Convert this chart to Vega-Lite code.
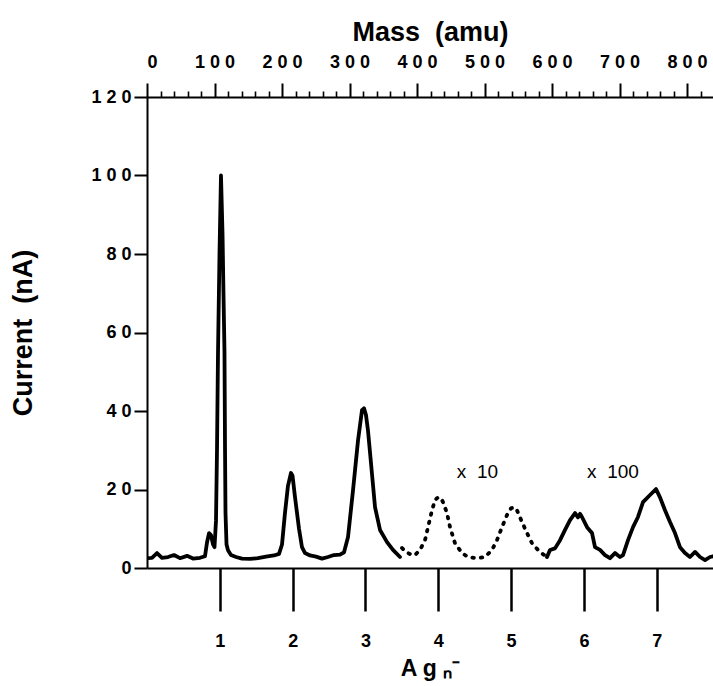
{
  "$schema": "https://vega.github.io/schema/vega-lite/v6.json",
  "width": 566,
  "height": 471,
  "autosize": "none",
  "padding": {"left": 147, "top": 97, "right": 0, "bottom": 118},
  "background": "white",
  "config": {
    "view": {"stroke": null},
    "font": "Liberation Sans",
    "axis": {"domainColor": "black", "tickColor": "black", "labelColor": "black", "titleColor": "black", "grid": false, "labelFont": "Liberation Sans", "titleFont": "Liberation Sans"}
  },
  "datasets": {
    "trace": [
      {"seg": "a", "mass": 0, "nA": 2.5},
      {"seg": "a", "mass": 7.4, "nA": 2.6},
      {"seg": "a", "mass": 14.8, "nA": 3.8},
      {"seg": "a", "mass": 22.2, "nA": 2.6},
      {"seg": "a", "mass": 31.1, "nA": 2.8},
      {"seg": "a", "mass": 40.0, "nA": 3.3},
      {"seg": "a", "mass": 48.9, "nA": 2.5},
      {"seg": "a", "mass": 59.3, "nA": 3.1},
      {"seg": "a", "mass": 68.1, "nA": 2.4},
      {"seg": "a", "mass": 78.5, "nA": 2.6},
      {"seg": "a", "mass": 85.9, "nA": 3.0},
      {"seg": "a", "mass": 88.9, "nA": 6.5},
      {"seg": "a", "mass": 91.9, "nA": 8.9},
      {"seg": "a", "mass": 94.8, "nA": 8.4},
      {"seg": "a", "mass": 97.8, "nA": 6.0},
      {"seg": "a", "mass": 100.0, "nA": 5.3},
      {"seg": "a", "mass": 102.2, "nA": 12},
      {"seg": "a", "mass": 103.7, "nA": 30},
      {"seg": "a", "mass": 105.2, "nA": 55},
      {"seg": "a", "mass": 107.4, "nA": 80},
      {"seg": "a", "mass": 109.6, "nA": 100},
      {"seg": "a", "mass": 111.9, "nA": 85},
      {"seg": "a", "mass": 113.3, "nA": 70},
      {"seg": "a", "mass": 114.8, "nA": 55},
      {"seg": "a", "mass": 115.6, "nA": 30},
      {"seg": "a", "mass": 116.3, "nA": 14},
      {"seg": "a", "mass": 117.8, "nA": 6},
      {"seg": "a", "mass": 120.0, "nA": 4.5},
      {"seg": "a", "mass": 124.4, "nA": 3.3},
      {"seg": "a", "mass": 131.9, "nA": 2.8},
      {"seg": "a", "mass": 140.7, "nA": 2.4},
      {"seg": "a", "mass": 152.6, "nA": 2.3},
      {"seg": "a", "mass": 164.4, "nA": 2.5},
      {"seg": "a", "mass": 176.3, "nA": 2.9},
      {"seg": "a", "mass": 188.1, "nA": 3.2},
      {"seg": "a", "mass": 195.6, "nA": 3.6},
      {"seg": "a", "mass": 200.0, "nA": 6},
      {"seg": "a", "mass": 204.4, "nA": 14},
      {"seg": "a", "mass": 208.9, "nA": 21},
      {"seg": "a", "mass": 213.3, "nA": 24.2},
      {"seg": "a", "mass": 215.6, "nA": 23.5},
      {"seg": "a", "mass": 219.3, "nA": 18},
      {"seg": "a", "mass": 225.2, "nA": 10},
      {"seg": "a", "mass": 229.6, "nA": 5.3},
      {"seg": "a", "mass": 234.1, "nA": 3.8},
      {"seg": "a", "mass": 241.5, "nA": 3.2},
      {"seg": "a", "mass": 250.4, "nA": 2.9},
      {"seg": "a", "mass": 259.3, "nA": 2.4},
      {"seg": "a", "mass": 268.1, "nA": 2.8},
      {"seg": "a", "mass": 277.0, "nA": 3.3},
      {"seg": "a", "mass": 285.9, "nA": 3.4},
      {"seg": "a", "mass": 291.9, "nA": 4.0},
      {"seg": "a", "mass": 297.8, "nA": 7.9},
      {"seg": "a", "mass": 305.2, "nA": 19.8},
      {"seg": "a", "mass": 312.6, "nA": 32.5},
      {"seg": "a", "mass": 318.5, "nA": 40.2},
      {"seg": "a", "mass": 321.5, "nA": 40.7},
      {"seg": "a", "mass": 324.4, "nA": 39},
      {"seg": "a", "mass": 327.4, "nA": 35},
      {"seg": "a", "mass": 333.3, "nA": 24},
      {"seg": "a", "mass": 337.8, "nA": 15.5},
      {"seg": "a", "mass": 345.2, "nA": 9.7},
      {"seg": "a", "mass": 355.6, "nA": 6.6},
      {"seg": "a", "mass": 364.4, "nA": 4.6},
      {"seg": "a", "mass": 374.8, "nA": 2.8},
      {"seg": "dotted", "mass": 377.8, "nA": 5.1},
      {"seg": "dotted", "mass": 382.2, "nA": 4.3},
      {"seg": "dotted", "mass": 386.7, "nA": 3.8},
      {"seg": "dotted", "mass": 392.6, "nA": 3.3},
      {"seg": "dotted", "mass": 397.0, "nA": 3.3},
      {"seg": "dotted", "mass": 404.4, "nA": 4.6},
      {"seg": "dotted", "mass": 411.9, "nA": 7.1},
      {"seg": "dotted", "mass": 416.3, "nA": 10.4},
      {"seg": "dotted", "mass": 422.2, "nA": 14.7},
      {"seg": "dotted", "mass": 426.7, "nA": 17.3},
      {"seg": "dotted", "mass": 431.1, "nA": 18.0},
      {"seg": "dotted", "mass": 435.6, "nA": 17.8},
      {"seg": "dotted", "mass": 438.5, "nA": 16.8},
      {"seg": "dotted", "mass": 444.4, "nA": 14.0},
      {"seg": "dotted", "mass": 448.9, "nA": 10.4},
      {"seg": "dotted", "mass": 456.3, "nA": 6.3},
      {"seg": "dotted", "mass": 466.7, "nA": 3.8},
      {"seg": "dotted", "mass": 475.6, "nA": 2.8},
      {"seg": "dotted", "mass": 488.9, "nA": 2.5},
      {"seg": "dotted", "mass": 500.7, "nA": 2.8},
      {"seg": "dotted", "mass": 511.1, "nA": 4.6},
      {"seg": "dotted", "mass": 518.5, "nA": 7.1},
      {"seg": "dotted", "mass": 525.9, "nA": 10.4},
      {"seg": "dotted", "mass": 533.3, "nA": 13.5},
      {"seg": "dotted", "mass": 539.3, "nA": 15.2},
      {"seg": "dotted", "mass": 543.7, "nA": 15.5},
      {"seg": "dotted", "mass": 548.1, "nA": 14.7},
      {"seg": "dotted", "mass": 555.6, "nA": 11.7},
      {"seg": "dotted", "mass": 563.0, "nA": 8.9},
      {"seg": "dotted", "mass": 570.4, "nA": 6.3},
      {"seg": "dotted", "mass": 579.3, "nA": 4.6},
      {"seg": "dotted", "mass": 586.7, "nA": 3.5},
      {"seg": "dotted", "mass": 592.6, "nA": 2.9},
      {"seg": "c", "mass": 592.6, "nA": 2.8},
      {"seg": "c", "mass": 597.0, "nA": 4.6},
      {"seg": "c", "mass": 604.4, "nA": 5.0},
      {"seg": "c", "mass": 611.9, "nA": 7.1},
      {"seg": "c", "mass": 619.3, "nA": 9.7},
      {"seg": "c", "mass": 626.7, "nA": 12.2},
      {"seg": "c", "mass": 634.1, "nA": 14.0},
      {"seg": "c", "mass": 638.5, "nA": 12.9},
      {"seg": "c", "mass": 641.5, "nA": 13.8},
      {"seg": "c", "mass": 644.4, "nA": 13.0},
      {"seg": "c", "mass": 651.9, "nA": 10.4},
      {"seg": "c", "mass": 656.3, "nA": 9.5},
      {"seg": "c", "mass": 659.3, "nA": 8.9},
      {"seg": "c", "mass": 663.7, "nA": 5.3},
      {"seg": "c", "mass": 671.1, "nA": 4.6},
      {"seg": "c", "mass": 678.5, "nA": 3.3},
      {"seg": "c", "mass": 685.9, "nA": 2.5},
      {"seg": "c", "mass": 693.3, "nA": 3.8},
      {"seg": "c", "mass": 700.7, "nA": 2.8},
      {"seg": "c", "mass": 705.2, "nA": 3.3},
      {"seg": "c", "mass": 712.6, "nA": 7.1},
      {"seg": "c", "mass": 720.0, "nA": 10.4},
      {"seg": "c", "mass": 727.4, "nA": 13.0},
      {"seg": "c", "mass": 734.8, "nA": 16.8},
      {"seg": "c", "mass": 745.2, "nA": 18.6},
      {"seg": "c", "mass": 754.1, "nA": 20.1},
      {"seg": "c", "mass": 760.0, "nA": 18.0},
      {"seg": "c", "mass": 767.4, "nA": 14.7},
      {"seg": "c", "mass": 774.8, "nA": 11.7},
      {"seg": "c", "mass": 782.2, "nA": 8.9},
      {"seg": "c", "mass": 789.6, "nA": 5.3},
      {"seg": "c", "mass": 797.0, "nA": 3.8},
      {"seg": "c", "mass": 804.4, "nA": 2.8},
      {"seg": "c", "mass": 811.9, "nA": 4.1},
      {"seg": "c", "mass": 819.3, "nA": 2.8},
      {"seg": "c", "mass": 826.7, "nA": 2.0},
      {"seg": "c", "mass": 834.1, "nA": 2.8},
      {"seg": "c", "mass": 838.5, "nA": 3.0}
    ],
    "notes": [
      {"label": "x\u00a0\u00a010", "mass": 459, "nA": 24.4},
      {"label": "x\u00a0\u00a0100", "mass": 652, "nA": 24.4}
    ]
  },
  "layer": [
    {
      "data": {"name": "trace"},
      "transform": [{"filter": "datum.seg !== 'dotted'"}],
      "mark": {"type": "line", "color": "black", "strokeWidth": 3.8, "strokeJoin": "round", "strokeCap": "round", "clip": true},
      "encoding": {
        "x": {
          "field": "mass", "type": "quantitative",
          "scale": {"domain": [0, 838.5], "nice": false, "zero": false},
          "axis": {
            "orient": "top",
            "values": [0, 100, 200, 300, 400, 500, 600, 700, 800],
            "tickSize": 14, "tickWidth": 2, "domainWidth": 2,
            "labelFontSize": 18, "labelFontWeight": "bold", "labelPadding": 12,
            "labelExpr": "join(split(datum.label, ''), ' ')",
            "title": "Mass\u00a0\u00a0(amu)", "titleFontSize": 27, "titleFontWeight": "bold",
            "titleY": -57, "titleBaseline": "alphabetic"
          }
        },
        "y": {
          "field": "nA", "type": "quantitative",
          "scale": {"domain": [0, 120], "nice": false},
          "axis": {
            "values": [0, 20, 40, 60, 80, 100, 120],
            "tickSize": 13, "tickWidth": 2, "domainWidth": 2,
            "labelFontSize": 18, "labelFontWeight": "bold", "labelPadding": 3,
            "labelExpr": "join(split(datum.label, ''), ' ')",
            "title": "Current\u00a0\u00a0(nA)", "titleFontSize": 27, "titleFontWeight": "bold",
            "titleAngle": -90, "titleX": -116, "titleY": 235.5, "titleAlign": "center", "titleBaseline": "alphabetic"
          }
        },
        "detail": {"field": "seg"}
      }
    },
    {
      "data": {"name": "trace"},
      "transform": [{"filter": "datum.seg === 'dotted'"}],
      "mark": {"type": "line", "color": "black", "strokeWidth": 3.8, "strokeDash": [1.5, 7], "strokeCap": "round", "strokeJoin": "round"},
      "encoding": {
        "x": {
          "field": "mass", "type": "quantitative",
          "axis": {
            "orient": "top",
            "values": [20, 40, 60, 80, 120, 140, 160, 180, 220, 240, 260, 280, 320, 340, 360, 380, 420, 440, 460, 480, 520, 540, 560, 580, 620, 640, 660, 680, 720, 740, 760, 780, 820],
            "tickSize": 6, "tickWidth": 1.6, "labels": false, "domain": false, "title": null
          }
        },
        "y": {"field": "nA", "type": "quantitative"}
      }
    },
    {
      "data": {"name": "notes"},
      "mark": {"type": "text", "align": "left", "baseline": "middle", "fontSize": 19, "font": "Liberation Sans", "color": "black"},
      "encoding": {
        "x": {
          "field": "mass", "type": "quantitative",
          "axis": {
            "orient": "bottom",
            "values": [107.87, 215.74, 323.61, 431.48, 539.35, 647.22, 755.09],
            "tickSize": 43, "tickWidth": 2.5, "domainWidth": 2,
            "labelFontSize": 18, "labelFontWeight": "bold", "labelPadding": 21,
            "labelExpr": "format(datum.value / 107.87, '.0f')",
            "title": "A g ₙ⁻", "titleFontSize": 23, "titleFontWeight": "bold",
            "titleY": 107, "titleBaseline": "alphabetic"
          }
        },
        "y": {"field": "nA", "type": "quantitative"},
        "text": {"field": "label"}
      }
    }
  ],
  "resolve": {"axis": {"x": "independent"}}
}
